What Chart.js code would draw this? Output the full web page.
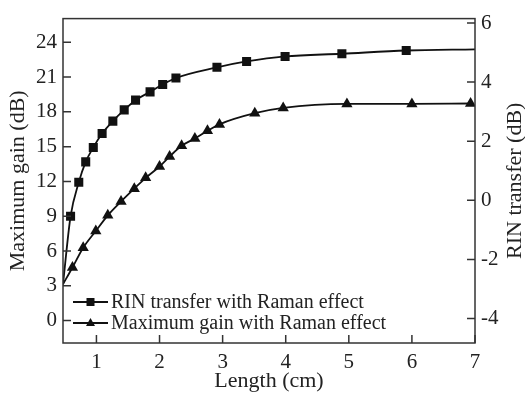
<!DOCTYPE html>
<html>
<head>
<meta charset="utf-8">
<script src="https://cdn.jsdelivr.net/npm/chart.js@4.4.1/dist/chart.umd.min.js"></script>
<style>
  body { margin: 0; background: #fff; }
  #wrap { width: 525px; height: 397px; }
</style>
</head>
<body>
<div id="wrap"><canvas id="gainChart"></canvas></div>
<script>
// data
const rinLength = [0.47, 0.59, 0.72, 0.83, 0.95, 1.09, 1.26, 1.44, 1.62, 1.85, 2.05, 2.26, 2.91, 3.38, 3.99, 4.89, 5.91, 7.0];
const rinTransfer = [-2.84, -0.54, 0.61, 1.3, 1.79, 2.26, 2.68, 3.06, 3.39, 3.67, 3.92, 4.14, 4.5, 4.7, 4.87, 4.96, 5.07, 5.11];
const gainLength = [0.47, 0.62, 0.79, 0.99, 1.18, 1.39, 1.6, 1.78, 2.0, 2.16, 2.35, 2.56, 2.76, 2.95, 3.51, 3.96, 4.97, 6.0, 6.93];
const maxGain = [3.14, 4.58, 6.28, 7.73, 9.08, 10.27, 11.38, 12.31, 13.29, 14.15, 15.07, 15.7, 16.36, 16.92, 17.88, 18.34, 18.68, 18.68, 18.72];

const xTicks = [1, 2, 3, 4, 5, 6, 7];
const gainTicks = [0, 3, 6, 9, 12, 15, 18, 21, 24];
const rinTicks = [-4, -2, 0, 2, 4, 6];

const X_MIN = 0.47, X_MAX = 7;
const FONT = "'Liberation Serif', 'Times New Roman', serif";
const INK = "#222";
const TICK = 8;

const toPoints = (xs, ys) => xs.map((x, i) => ({ x: x, y: ys[i] }));
// points sitting on the plot edges are just the ends of the fitted curve, no marker
const markerSize = (r) => (ctx) => {
  const p = ctx.raw;
  return p && (p.x <= X_MIN || p.x >= X_MAX) ? 0 : r;
};

const fixTicks = (list) => (scale) => {
  scale.ticks = list.map((v) => ({ value: v }));
};

// frame, inward ticks, axis titles and the legend box inside the plot
const framePlugin = {
  id: "frame",
  afterDraw(chart) {
    const { ctx, chartArea: a, scales } = chart;
    ctx.save();
    ctx.strokeStyle = "#333";
    ctx.lineWidth = 1.5;
    ctx.strokeRect(a.left, a.top, a.right - a.left, a.bottom - a.top);

    ctx.beginPath();
    scales.x.ticks.forEach((t) => {
      const p = scales.x.getPixelForValue(t.value);
      ctx.moveTo(p, a.bottom);
      ctx.lineTo(p, a.bottom - TICK);
    });
    scales.yGain.ticks.forEach((t) => {
      const p = scales.yGain.getPixelForValue(t.value);
      ctx.moveTo(a.left, p);
      ctx.lineTo(a.left + TICK, p);
    });
    scales.yRin.ticks.forEach((t) => {
      const p = scales.yRin.getPixelForValue(t.value);
      ctx.moveTo(a.right, p);
      ctx.lineTo(a.right - TICK, p);
    });
    ctx.stroke();

    // axis titles
    ctx.fillStyle = INK;
    ctx.font = "22px " + FONT;
    ctx.textAlign = "center";
    ctx.textBaseline = "middle";
    ctx.fillText("Length (cm)", (a.left + a.right) / 2, 381);

    ctx.save();
    ctx.translate(18, (a.top + a.bottom) / 2);
    ctx.rotate(-Math.PI / 2);
    ctx.fillText("Maximum gain (dB)", 0, 0);
    ctx.restore();

    ctx.save();
    ctx.translate(515, (a.top + a.bottom) / 2);
    ctx.rotate(-Math.PI / 2);
    ctx.fillText("RIN transfer (dB)", 0, 0);
    ctx.restore();

    // legend
    ctx.font = "20px " + FONT;
    ctx.textAlign = "left";
    chart.data.datasets.forEach((ds, i) => {
      const y = a.bottom - 41 + i * 21;
      const x0 = a.left + 10, x1 = a.left + 45, xm = (x0 + x1) / 2;
      ctx.strokeStyle = ds.borderColor;
      ctx.lineWidth = ds.borderWidth;
      ctx.beginPath();
      ctx.moveTo(x0, y);
      ctx.lineTo(x1, y);
      ctx.stroke();
      ctx.fillStyle = ds.pointBackgroundColor;
      ctx.beginPath();
      if (ds.pointStyle === "rect") {
        ctx.rect(xm - 4, y - 4, 8, 8);
      } else {
        ctx.moveTo(xm, y - 5);
        ctx.lineTo(xm + 4.5, y + 3);
        ctx.lineTo(xm - 4.5, y + 3);
        ctx.closePath();
      }
      ctx.fill();
      ctx.fillStyle = INK;
      ctx.fillText(ds.label, x1 + 3, y + 1);
    });
    ctx.restore();
  },
};

const tickFont = { family: FONT, size: 21 };

new Chart(document.getElementById("gainChart"), {
  type: "line",
  data: {
    datasets: [
      {
        label: "RIN transfer with Raman effect",
        data: toPoints(rinLength, rinTransfer),
        yAxisID: "yRin",
        borderColor: "#111",
        borderWidth: 1.8,
        pointStyle: "rect",
        pointRadius: markerSize(6.4),
        pointBackgroundColor: "#111",
        pointBorderWidth: 0,
        cubicInterpolationMode: "monotone",
      },
      {
        label: "Maximum gain with Raman effect",
        data: toPoints(gainLength, maxGain),
        yAxisID: "yGain",
        borderColor: "#111",
        borderWidth: 1.8,
        pointStyle: "triangle",
        pointRadius: markerSize(6.5),
        pointBackgroundColor: "#111",
        pointBorderWidth: 0,
        cubicInterpolationMode: "monotone",
      },
    ],
  },
  options: {
    responsive: true,
    maintainAspectRatio: false,
    animation: false,
    layout: { padding: { top: 13 } },
    plugins: {
      legend: { display: false },
      tooltip: { enabled: false },
    },
    scales: {
      x: {
        type: "linear",
        min: X_MIN,
        max: X_MAX,
        afterBuildTicks: fixTicks(xTicks),
        afterFit: (s) => { s.height = 54; },
        grid: { display: false, drawTicks: false },
        border: { display: false },
        ticks: { font: tickFont, color: INK, padding: 7 },
      },
      yGain: {
        position: "left",
        min: -1.93,
        max: 26.04,
        afterBuildTicks: fixTicks(gainTicks),
        afterFit: (s) => { s.width = 63; },
        grid: { display: false, drawTicks: false },
        border: { display: false },
        ticks: { font: tickFont, color: INK, padding: 6 },
      },
      yRin: {
        position: "right",
        min: -4.83,
        max: 6.15,
        afterBuildTicks: fixTicks(rinTicks),
        afterFit: (s) => { s.width = 50; },
        grid: { display: false, drawTicks: false },
        border: { display: false },
        ticks: { font: tickFont, color: INK, padding: 6 },
      },
    },
  },
  plugins: [framePlugin],
});
</script>
</body>
</html>
